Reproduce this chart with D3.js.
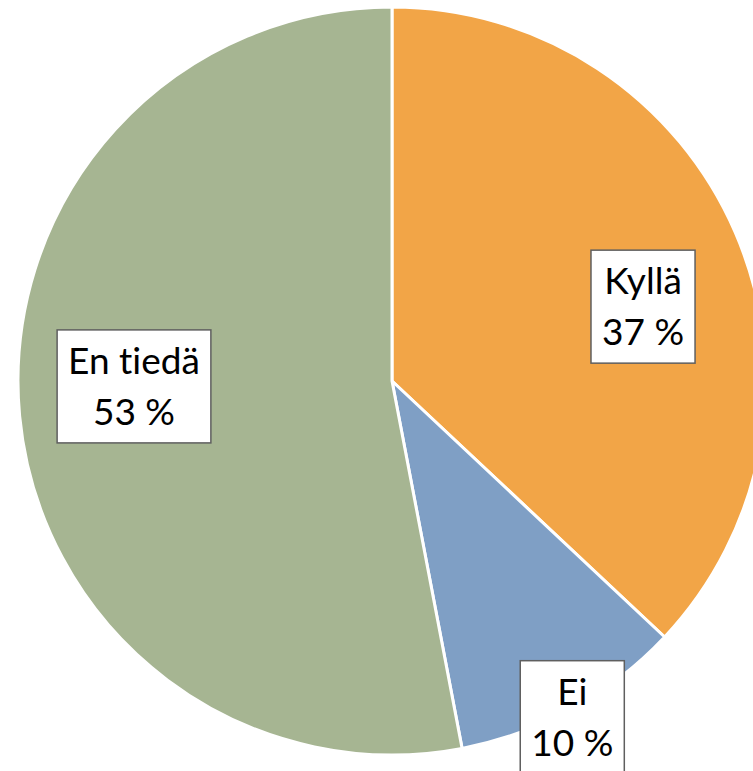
<!DOCTYPE html>
<html><head><meta charset="utf-8">
<script src="https://cdn.jsdelivr.net/npm/d3@7"></script>
<style>html,body{margin:0;padding:0;background:#fff;overflow:hidden}svg{display:block}</style>
</head><body>
<script>
const categories = ["Kyllä", "Ei", "En tiedä"];
const values = [37, 10, 53];
const valueLabels = ["37 %", "10 %", "53 %"];
const colors = ["#F2A547", "#7F9FC5", "#A6B592"];
// label placement: angle (deg) and radius fraction
const labelAngles = [73.5, 151.8, 268.8];
const labelRadii = [0.70, 1.02, 0.69];

const W = 753, H = 771, cx = 392, cy = 381, R = 374;
const svg = d3.select("body").append("svg").attr("width", W).attr("height", H);
const g = svg.append("g").attr("transform", `translate(${cx},${cy})`);
const pie = d3.pie().sort(null).value(d => d)(values);
const arc = d3.arc().innerRadius(0).outerRadius(R);
g.selectAll("path").data(pie).join("path")
  .attr("d", arc).attr("fill", (d,i) => colors[i])
  .attr("stroke", "#fff").attr("stroke-width", 3).attr("stroke-linejoin", "round");

const fs = 37, lh = 51;
pie.forEach((d, i) => {
  const [x, y] = d3.pointRadial(labelAngles[i] * Math.PI / 180, labelRadii[i] * R);
  const lg = g.append("g").attr("transform", `translate(${x},${y})`);
  const rect = lg.append("rect");
  const t = lg.append("text").attr("text-anchor", "middle")
    .style("font-family", "Lato, 'Open Sans', sans-serif").style("font-size", fs + "px")
    .style("font-variant-ligatures", "none").style("font-feature-settings", "'liga' 0").attr("fill", "#000");
  const lines = [categories[i], valueLabels[i]];
  lines.forEach((s, k) => t.append("tspan").attr("x", 0).attr("y", -lh/2 + 13 + k * lh).text(s));
  let w = 0;
  t.selectAll("tspan").each(function(){ w = Math.max(w, this.getComputedTextLength()); });
  const bw = w + 22, bh = 113;
  rect.attr("x", -bw/2).attr("y", -bh/2).attr("width", bw).attr("height", bh)
    .attr("fill", "#fff").attr("stroke", "#5F5F5F").attr("stroke-width", 1.5);
});
</script>
</body></html>
